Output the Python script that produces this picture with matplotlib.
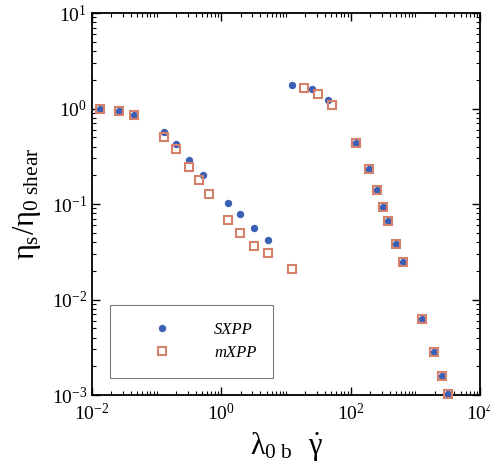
import numpy as np
import matplotlib
matplotlib.use('Agg')
import matplotlib.pyplot as plt
from matplotlib.ticker import LogLocator, NullFormatter

plt.rc('font', family='serif', serif=['Liberation Serif', 'DejaVu Serif'])
plt.rc('mathtext', fontset='custom', rm='Liberation Serif', it='Liberation Serif',
       bf='Liberation Serif:bold', sf='Liberation Serif')

# data
sxpp_x = [0.0133, 0.0264, 0.045, 0.13, 0.196, 0.319, 0.514, 1.28, 1.94, 3.19, 5.19,
          12.5, 25.1, 44.0,
          123, 191, 251, 318, 380, 500, 634, 1274, 1954, 2630, 3214]
sxpp_y = [1.0, 0.95, 0.86, 0.564, 0.425, 0.289, 0.201, 0.1016, 0.078, 0.0565, 0.042,
          1.76, 1.59, 1.23,
          0.432, 0.231, 0.140, 0.0937, 0.0659, 0.0384, 0.0247, 0.0063, 0.0028, 0.00158, 0.00102]

mxpp_x = [0.0133, 0.0264, 0.045, 0.13, 0.196, 0.319, 0.446, 0.643, 1.28, 1.94, 3.19, 5.19, 12.5,
          18.7, 31.1, 51.2,
          123, 191, 251, 318, 380, 500, 634, 1274, 1954, 2630, 3214]
mxpp_y = [1.0, 0.95, 0.86, 0.507, 0.377, 0.242, 0.177, 0.128, 0.0685, 0.0493, 0.0366, 0.0309, 0.0207,
          1.63, 1.41, 1.08,
          0.432, 0.231, 0.140, 0.0937, 0.0659, 0.0384, 0.0247, 0.0063, 0.0028, 0.00158, 0.00102]

fig = plt.figure(figsize=(4.9, 4.75), dpi=100)
ax = fig.add_axes([0.1878, 0.1684, 0.7918, 0.8042])

ax.plot(sxpp_x, sxpp_y, 'o', ls='none', ms=4.3, color='#3b5fb5', mec='#3b5fb5',
        label='SXPP', clip_on=False, zorder=3)
ax.plot(mxpp_x, mxpp_y, 's', ls='none', ms=5.4, mfc='none', mec='#d4806a', mew=1.5,
        label='mXPP', clip_on=False, zorder=4)

ax.set_xscale('log')
ax.set_yscale('log')
ax.set_xlim(1e-2, 1e4)
ax.set_ylim(1e-3, 1e1)

ax.xaxis.set_major_locator(LogLocator(base=100))
ax.xaxis.set_minor_locator(LogLocator(base=10, subs=np.arange(1, 10), numticks=30))
ax.xaxis.set_minor_formatter(NullFormatter())
ax.yaxis.set_major_locator(LogLocator(base=10))
ax.yaxis.set_minor_locator(LogLocator(base=10, subs=np.arange(2, 10), numticks=30))
ax.yaxis.set_minor_formatter(NullFormatter())

ax.tick_params(which='both', direction='in', top=True, right=True, labelsize=14)
ax.tick_params(axis='x', pad=6)
ax.tick_params(which='major', length=6, width=1)
ax.tick_params(which='minor', length=3, width=0.8)
for s in ax.spines.values():
    s.set_linewidth(1.3)

ax.set_xlabel(r'$\lambda_{0\ \mathrm{b}}\ \ \dot{\gamma}$', fontsize=22, labelpad=4)
ax.set_ylabel(r'$\eta_s/\eta_{0\ \mathrm{shear}}$', fontsize=22, labelpad=6)

leg = ax.legend(loc='lower left', bbox_to_anchor=(0.046, 0.045), frameon=True,
                fancybox=False, edgecolor='0.35', borderpad=1.0, handletextpad=1.06,
                borderaxespad=0, handlelength=4.2, labelspacing=0.45, numpoints=1,
                prop={'family': 'serif', 'style': 'italic', 'size': 12})
leg.get_frame().set_linewidth(0.8)

plt.savefig('out.png', dpi=100)
